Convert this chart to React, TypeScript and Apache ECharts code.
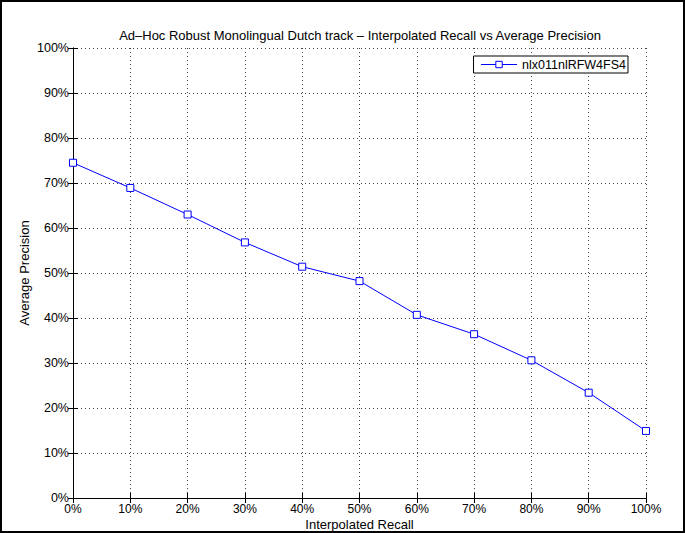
import React, { useEffect, useRef } from "react";
import * as echarts from "echarts";

const recallLevels = [0, 0.1, 0.2, 0.3, 0.4, 0.5, 0.6, 0.7, 0.8, 0.9, 1.0];
const precisionValues = [0.745, 0.689, 0.63, 0.568, 0.514, 0.482, 0.407, 0.364, 0.306, 0.234, 0.149];
const seriesName = "nlx011nlRFW4FS4";
const titleText = "Ad\u2013Hoc Robust Monolingual Dutch track \u2013 Interpolated Recall vs Average Precision";
const xAxisName = "Interpolated Recall";
const yAxisName = "Average Precision";

const pct = (v: number) => Math.round(v * 100) + "%";

export default function App() {
  const ref = useRef<HTMLDivElement>(null);
  useEffect(() => {
    document.body.style.margin = "0";
    if (!ref.current) return;
    const chart = echarts.init(ref.current, undefined, { renderer: "svg" });
    const font = "'Liberation Sans', Arial, Helvetica, sans-serif";
    const gridLine = { show: true, lineStyle: { color: "#444", type: [1, 3] as any, width: 1 } };
    const baseAxis = {
      type: "value" as const,
      min: 0,
      max: 1,
      interval: 0.1,
      axisLine: { show: true, lineStyle: { color: "#000", width: 1 } },
      axisTick: { show: true, inside: true, length: 5, lineStyle: { color: "#000" } },
    };
    chart.setOption({
      animation: false,
      backgroundColor: "#fff",
      textStyle: { fontFamily: font },
      grid: { left: 73, right: 39, top: 48, bottom: 35, containLabel: false, outerBoundsMode: "none" },
      graphic: [
        {
          type: "rect",
          shape: { x: 1, y: 1, width: 683, height: 531 },
          style: { fill: "none", stroke: "#000", lineWidth: 2 },
          silent: true,
        },
        {
          type: "text",
          x: 360,
          y: 35,
          style: {
            text: titleText,
            fontSize: 13,
            fontFamily: font,
            fill: "#000",
            textAlign: "center",
            textVerticalAlign: "middle",
          },
        },
      ],
      legend: {
        show: true,
        right: 57,
        top: 56,
        orient: "vertical",
        backgroundColor: "#fff",
        borderColor: "#000",
        borderWidth: 1,
        borderRadius: 0,
        padding: [2, 2, 2, 7],
        itemWidth: 36,
        itemHeight: 8,
        lineStyle: { width: 1 },
        itemStyle: { borderWidth: 1 },
        textStyle: { fontSize: 12.5, color: "#000", fontFamily: font },
        data: [seriesName],
      },
      xAxis: [
        {
          ...baseAxis,
          position: "bottom",
          name: xAxisName,
          nameLocation: "middle",
          nameGap: 20,
          nameMoveOverlap: false,
          nameTextStyle: { fontSize: 13, color: "#000", fontFamily: font },
          axisLabel: { formatter: pct, fontSize: 12, color: "#000", margin: 5, fontFamily: font },
          splitLine: gridLine,
        },
        {
          ...baseAxis,
          position: "top",
          axisLabel: { show: false },
          splitLine: { show: false },
        },
      ],
      yAxis: [
        {
          ...baseAxis,
          position: "left",
          name: yAxisName,
          nameLocation: "middle",
          nameGap: 42,
          nameMoveOverlap: false,
          nameTextStyle: { fontSize: 13, color: "#000", fontFamily: font },
          axisLabel: { formatter: pct, fontSize: 12.5, color: "#000", margin: 4, fontFamily: font },
          splitLine: gridLine,
        },
        {
          ...baseAxis,
          position: "right",
          axisLabel: { show: false },
          splitLine: { show: false },
        },
      ],
      series: [
        {
          name: seriesName,
          type: "line",
          xAxisIndex: 0,
          yAxisIndex: 0,
          data: recallLevels.map((r, i) => [r, precisionValues[i]]),
          symbol: "rect",
          symbolSize: 7,
          showAllSymbol: true,
          lineStyle: { color: "#0000ff", width: 1 },
          itemStyle: { color: "#ffffff", borderColor: "#0000ff", borderWidth: 1 },
          emphasis: { disabled: true },
        },
      ],
    });
    return () => chart.dispose();
  }, []);
  return <div ref={ref} style={{ width: 685, height: 533 }} />;
}
